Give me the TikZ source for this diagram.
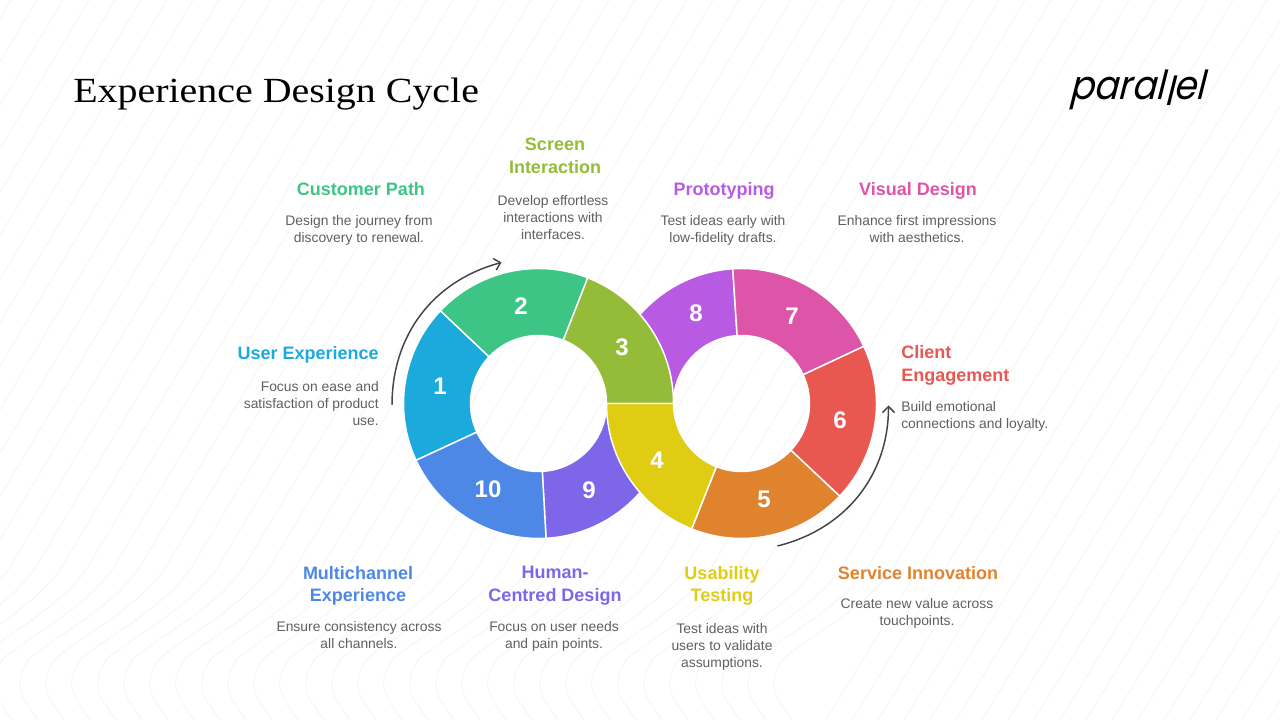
\documentclass[tikz,border=0pt]{standalone}
\usepackage{fontspec}
\usetikzlibrary{arrows.meta}
\setmainfont{Liberation Sans}
\newfontfamily\titlefont[FakeStretch=1.13]{Liberation Serif}
\newfontfamily\logofont[FakeSlant=0.25,FakeStretch=0.9]{Poppins}

\definecolor{seg1}{HTML}{1CA9DC}
\definecolor{seg2}{HTML}{3DC586}
\definecolor{seg3}{HTML}{94BC38}
\definecolor{seg4}{HTML}{E0CC12}
\definecolor{seg5}{HTML}{E0832E}
\definecolor{seg6}{HTML}{E85850}
\definecolor{seg7}{HTML}{DD55A8}
\definecolor{seg8}{HTML}{B85AE2}
\definecolor{seg9}{HTML}{7E66E8}
\definecolor{seg10}{HTML}{4D88E6}
\definecolor{bodygray}{HTML}{5F5F5F}
\definecolor{flowgray}{HTML}{444444}
\definecolor{bgline}{HTML}{F2F2F2}

\begin{document}
\begin{tikzpicture}[x=0.75pt,y=0.75pt]
	\tikzstyle{seg} = [draw=white, line width=1.1pt, line join=round]
	\tikzstyle{num} = [inner sep=0, text=white, font=\fontsize{18}{18}\selectfont\bfseries]
	\tikzstyle{head} = [inner sep=0, font=\fontsize{13.5}{17}\selectfont\bfseries]
	\tikzstyle{body} = [inner sep=0, text=bodygray, font=\fontsize{10.4}{12.75}\selectfont]
	\tikzstyle{flow} = [draw=flowgray, line width=1.1pt, -{Straight Barb[length=4.5pt,width=9pt]}]

	\useasboundingbox (0,0) rectangle (1280,720);

	\begin{scope}
		\clip (0,0) rectangle (1280,720);
		\foreach \x in {-430,-404,...,800} {
			\draw[bgline, line width=0.5pt] (\x,0) .. controls (\x-12,18) and (\x-30,35) .. (\x-8,62)
				.. controls (\x+20,85) and (\x+70,110) .. (\x+100,150) -- (\x+441,720);
		}
		\foreach \x in {826,852,...,1300} {
			\draw[bgline, line width=0.5pt] (\x,0) -- (\x+441,720);
		}
	\end{scope}

	\coordinate (lc) at (538.5,316.5);
	\coordinate (rc) at (741.5,316.5);

	\foreach \c/\a/\b/\col in {lc/273.2/360/seg9, rc/93.7/180/seg8, lc/136.6/204.9/seg1, lc/68.6/136.6/seg2,
			rc/248.3/316.7/seg5, rc/316.7/385.1/seg6, rc/25.1/93.7/seg7, lc/204.9/273.2/seg10,
			lc/0/68.6/seg3, rc/180/248.3/seg4} {
		\draw[seg, fill=\col] (\c) ++(\a:135) arc[start angle=\a, end angle=\b, radius=135]
			-- ++(\b:-67) arc[start angle=\b, end angle=\a, radius=68] -- cycle;
	}

	\foreach \n/\x/\y in {1/440/334, 2/521/414, 3/622/373, 4/657/260, 5/764/221, 6/840/300, 7/792/404, 8/696/407, 9/589/230, 10/488/231} {
		\node[num] (n\n) at (\x,\y) {\n};
	}

	\coordinate (flow1a) at (392,315);
	\coordinate (flow1b) at (501.5,457.5);
	\coordinate (flow2a) at (777.5,174);
	\coordinate (flow2b) at (888.5,314.5);
	\draw[flow] (flow1a) to[out=90, in=195] (flow1b);
	\draw[flow] (flow2a) to[out=14, in=270] (flow2b);

	\node[anchor=base west, inner sep=0, font=\fontsize{26.5}{30}\selectfont\titlefont] (title) at (73,617) {Experience Design Cycle};
	\node[anchor=base west, inner sep=0, font=\fontsize{30}{32}\selectfont\logofont] (logo) at (1069,620) {paral\raisebox{-4pt}{l}el};

	\foreach \name/\col/\hx/\hy/\ha/\dx/\dy/\da/\al/\htxt/\dtxt in {
			user/seg1/379/365/east/379/339/north east/right/{User Experience}/{Focus on ease and\\satisfaction of product\\use.},
			path/seg2/361/531/center/359/505/north/center/{Customer Path}/{Design the journey from\\discovery to renewal.},
			screen/seg3/555/564/center/553/525/north/center/{Screen\\Interaction}/{Develop effortless\\interactions with\\interfaces.},
			proto/seg8/724/529/center/723/505/north/center/{Prototyping}/{Test ideas early with\\low-fidelity drafts.},
			visual/seg7/918/529/center/917/505/north/center/{Visual Design}/{Enhance first impressions\\with aesthetics.},
			client/seg6/901/354.5/west/901/319/north west/left/{Client\\Engagement}/{Build emotional\\connections and loyalty.},
			service/seg5/918/147/center/917/122/north/center/{Service Innovation}/{Create new value across\\touchpoints.},
			usability/seg4/722/134/center/722/97/north/center/{Usability\\Testing}/{Test ideas with\\users to validate\\assumptions.},
			human/seg9/555/134/center/554/99/north/center/{Human-\\Centred Design}/{Focus on user needs\\and pain points.},
			multi/seg10/358/134/center/359/99/north/center/{Multichannel\\Experience}/{Ensure consistency across\\all channels.}} {
		\node[head, text=\col, align=\al, anchor=\ha] (\name) at (\hx,\hy) {\htxt};
		\node[body, align=\al, anchor=\da] (\name text) at (\dx,\dy) {\dtxt};
	}
\end{tikzpicture}
\end{document}
